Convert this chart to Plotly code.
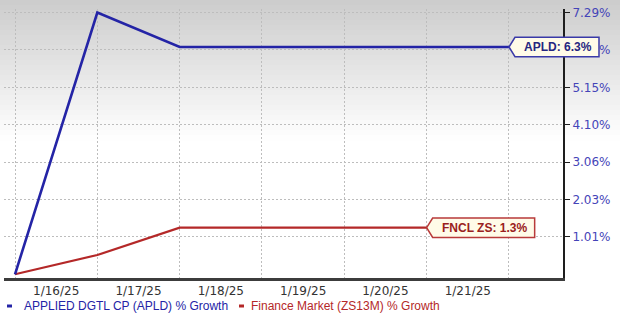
import math
import plotly.graph_objects as go

# ---- data ----
tick_labels = ["1/16/25", "1/17/25", "1/18/25", "1/19/25", "1/20/25", "1/21/25"]
apld_growth = [0.0, 7.29, 6.30, 6.30, 6.30, 6.30, 6.30]   # % growth
fncl_growth = [0.0, 0.52, 1.26, 1.26, 1.26, 1.26, 1.26]   # % growth
y_tick_values = [1.01, 2.03, 3.06, 4.10, 5.15, 6.22, 7.29]
y_tick_text = ["1.01%", "2.03%", "3.06%", "4.10%", "5.15%", "6.22%", "7.29%"]
series_names = ["APPLIED DGTL CP (APLD) % Growth", "Finance Market (ZS13M) % Growth"]
end_labels = ["APLD: 6.3%", "FNCL ZS: 1.3%"]

BLUE = "#2424a6"
RED = "#b42828"

W, H = 620, 316
ML, MR, MT, MB = 4, 57, 9, 38
PW, PH = W - ML - MR, H - MT - MB

xs = list(range(len(apld_growth)))
XR = [-0.1336, 6.656]
YR = [-0.000432, 0.030969]


def factor(v):
    return 1 + v / 100.0


fig = go.Figure()
fig.add_trace(go.Scatter(x=xs, y=[factor(v) for v in fncl_growth], mode="lines",
                         line=dict(color=RED, width=2.2), name=series_names[1],
                         showlegend=False))
fig.add_trace(go.Scatter(x=xs, y=[factor(v) for v in apld_growth], mode="lines",
                         line=dict(color=BLUE, width=2.6), name=series_names[0],
                         showlegend=False))

shapes = []
# background gradient
top_px, bot_px, n = 0, 140, 28
for i in range(n):
    p0 = top_px + (bot_px - top_px) * i / n
    p1 = top_px + (bot_px - top_px) * (i + 1) / n + 0.6
    c = int(round(204 + (255 - 204) * (i + 0.5) / n))
    shapes.append(dict(type="rect", xref="paper", yref="paper", layer="below",
                       x0=-ML / PW, x1=(W - ML) / PW,
                       y0=(H - MB - p0) / PH, y1=(H - MB - p1) / PH,
                       fillcolor=f"rgb({c},{c},{c})", line=dict(width=0)))


def px_x(idx):
    return (idx - XR[0]) / (XR[1] - XR[0])


annotations = []


def end_label(idx, value, text, color, textcolor, fill, width):
    h2 = 9.7
    pt = 6
    path = (f"M0,0 L{pt},{h2} L{width},{h2} L{width},{-h2} L{pt},{-h2} Z")
    shapes.append(dict(type="path", xref="paper", yref="y", layer="above",
                       xsizemode="pixel", ysizemode="pixel",
                       xanchor=px_x(idx), yanchor=factor(value),
                       path=path, fillcolor=fill, line=dict(color=color, width=1.5)))
    annotations.append(dict(x=xs[idx], y=math.log10(factor(value)), xref="x", yref="y",
                            text=f"<b>{text}</b>", showarrow=False,
                            xanchor="center", yanchor="middle",
                            xshift=(pt + width) / 2 + 1, yshift=0,
                            font=dict(family="Liberation Sans, Arial", size=12, color=textcolor)))


end_label(6, apld_growth[-1], end_labels[0], "#3a3aa8", "#262680", "#fffbe8", 90)
end_label(5, fncl_growth[5], end_labels[1], "#b83a3a", "#9a2020", "#fffbe8", 108)

# custom legend
legend_items = [(7, 22, series_names[0], BLUE), (239, 249, series_names[1], RED)]
ly = (H - MB - 306) / PH
for dash_x, text_x, name, col in legend_items:
    shapes.append(dict(type="line", xref="paper", yref="paper",
                       x0=(dash_x - ML) / PW, x1=(dash_x + 5 - ML) / PW, y0=ly, y1=ly,
                       line=dict(color=col, width=3)))
    annotations.append(dict(x=(text_x - ML) / PW, y=ly, xref="paper", yref="paper",
                            text=name, showarrow=False, xanchor="left", yanchor="middle",
                            font=dict(family="Liberation Sans, Arial", size=12, color=col)))

fig.update_layout(
    width=W, height=H,
    margin=dict(l=ML, r=MR, t=MT, b=MB, pad=0),
    paper_bgcolor="white", plot_bgcolor="rgba(0,0,0,0)",
    showlegend=False,
    shapes=shapes, annotations=annotations,
    xaxis=dict(range=XR, tickmode="array",
               tickvals=[i + 0.5 for i in range(len(tick_labels))], ticktext=tick_labels,
               showgrid=False, zeroline=False, ticks="",
               showline=True, linecolor="#3c3c3c", linewidth=3,
               tickfont=dict(family="DejaVu Sans", size=12, color="#333333"),
               minor=dict(tickmode="array", tickvals=xs, showgrid=True,
                          gridcolor="#bdbdbd", griddash="2px,2px", gridwidth=1, ticks="")),
    yaxis=dict(type="log", range=YR, side="right", tickmode="array",
               tickvals=[factor(v) for v in y_tick_values], ticktext=y_tick_text,
               showgrid=True, gridcolor="#bdbdbd", griddash="2px,2px", gridwidth=1,
               zeroline=False, showline=True, linecolor="#1e1e1e", linewidth=2,
               ticks="outside", ticklen=5, tickcolor="#1e1e1e", tickwidth=1,
               tickfont=dict(family="DejaVu Sans", size=12, color="#4444b8")),
)

fig.write_html("out.html")
